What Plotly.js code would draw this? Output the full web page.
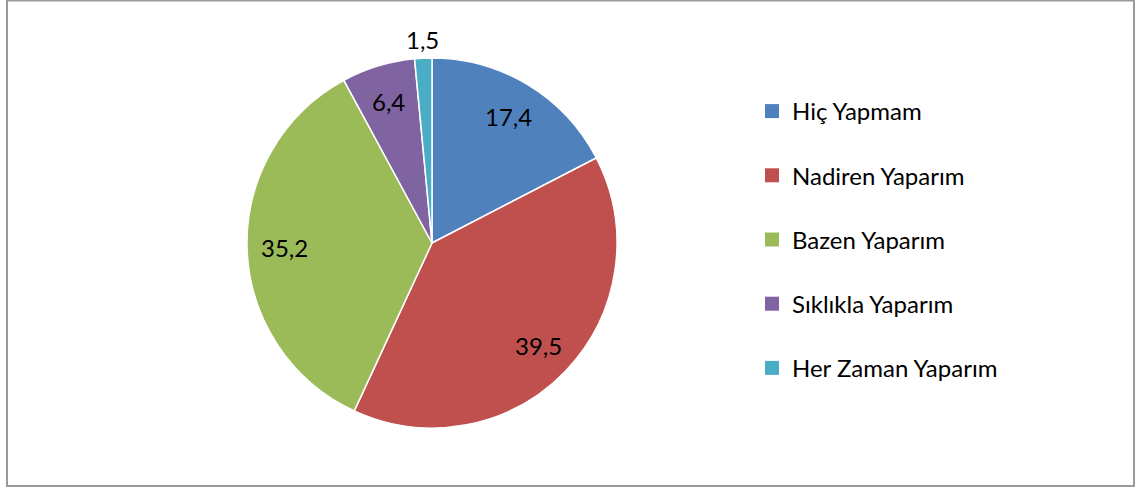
<!DOCTYPE html>
<html>
<head>
<meta charset="utf-8">
<script src="https://cdn.plot.ly/plotly-3.0.1.min.js"></script>
<style>
html,body{margin:0;padding:0;background:#fff;}
#chart{width:1142px;height:490px;}
</style>
</head>
<body>
<div id="chart"></div>
<script>
const categories = ['Hiç Yapmam', 'Nadiren Yaparım', 'Bazen Yaparım', 'Sıklıkla Yaparım', 'Her Zaman Yaparım'];
const values = [17.4, 39.5, 35.2, 6.4, 1.5];
const colors = ['#4F81BD', '#C0504D', '#9BBB59', '#8064A2', '#4BACC6'];
const labelOutside = [false, false, false, false, true];

const W = 1142, H = 490;
const cx = 432, cy = 243, R = 185;

const traces = [{
  type: 'pie',
  labels: categories,
  values: values,
  sort: false,
  direction: 'clockwise',
  rotation: 0,
  marker: {colors: colors, line: {color: '#ffffff', width: 1.5}},
  textinfo: 'none',
  showlegend: false,
  hoverinfo: 'label+value',
  domain: {x: [(cx - R) / W, (cx + R) / W], y: [(H - cy - R - 15) / H, (H - cy + R + 15) / H]}
}];

categories.forEach((c, i) => {
  traces.push({
    type: 'scatter',
    mode: 'markers',
    x: [-10], y: [-10],
    name: c,
    legendgroup: 'g' + i,
    marker: {symbol: 'square', size: 14, color: colors[i]},
    hoverinfo: 'skip',
    showlegend: true
  });
});

// data labels positioned from the slice mid-angles (computed from values)
const total = values.reduce((a, b) => a + b, 0);
let cum = 0;
const annotations = values.map((v, i) => {
  const mid = (cum + v / 2) / total * 2 * Math.PI;
  cum += v;
  const r = labelOutside[i] ? 1.1 * R : 0.8 * R;
  const px = cx + r * Math.sin(mid);
  const py = cy - r * Math.cos(mid);
  return {
    xref: 'paper', yref: 'paper',
    x: px / W, y: 1 - py / H,
    xanchor: 'center', yanchor: 'middle',
    showarrow: false,
    text: v.toFixed(1).replace('.', ','),
    font: {family: 'Lato, sans-serif', size: 24, color: '#000000'}
  };
});

const layout = {
  width: W, height: H,
  margin: {l: 0, r: 0, t: 0, b: 0},
  paper_bgcolor: '#ffffff',
  plot_bgcolor: 'rgba(0,0,0,0)',
  separators: ',.',
  font: {family: 'Lato, sans-serif', color: '#000000'},
  xaxis: {visible: false, range: [0, 1], domain: [0.99, 1], fixedrange: true},
  yaxis: {visible: false, range: [0, 1], domain: [0.99, 1], fixedrange: true},
  showlegend: true,
  legend: {
    x: 752 / W, xanchor: 'left',
    y: 1 - 89 / H, yanchor: 'top',
    font: {family: 'Lato, sans-serif', size: 24, color: '#000000'},
    tracegroupgap: 30,
    itemwidth: 30,
    bgcolor: 'rgba(0,0,0,0)'
  },
  annotations: annotations,
  shapes: [{
    type: 'rect', xref: 'paper', yref: 'paper',
    x0: 7 / W, x1: 1134 / W, y0: (H - 486) / H, y1: 1 - 0.5 / H,
    line: {color: '#9a9a9a', width: 2}, fillcolor: 'rgba(0,0,0,0)'
  }]
};

Plotly.newPlot('chart', traces, layout, {displayModeBar: false, staticPlot: true});
</script>
</body>
</html>
